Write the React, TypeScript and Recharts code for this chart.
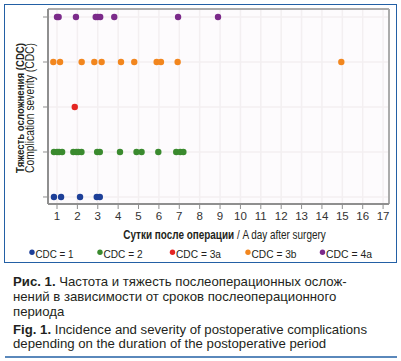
import React from 'react';
import { ScatterChart, Scatter, XAxis, YAxis, CartesianGrid, ReferenceLine } from 'recharts';

// Days after surgery for each complication grade (CDC)
const cdc1Days = [0.85, 1.2, 2.13, 2.95, 3.1];
const cdc2Days = [0.85, 1.0, 1.1, 1.25, 1.8, 1.95, 2.05, 2.2, 2.97, 3.1, 4.09, 4.9, 5.15, 5.97, 6.85, 7.05, 7.2];
const cdc3aDays = [1.87];
const cdc3bDays = [0.82, 1.15, 2.21, 2.83, 3.19, 4.14, 4.79, 5.89, 6.1, 6.92, 14.95];
const cdc4aDays = [1.0, 1.08, 1.93, 2.9, 3.0, 3.12, 3.81, 6.94, 8.9];

const seriesNames = ['CDC = 1', 'CDC = 2', 'CDC = 3a', 'CDC = 3b', 'CDC = 4a'];
const seriesLevels = [1, 2, 3, 4, 5];
const seriesColors = ['#1d3f98', '#3a8a2e', '#e42522', '#f2861e', '#7b2a8a'];
const seriesDays = [cdc1Days, cdc2Days, cdc3aDays, cdc3bDays, cdc4aDays];

const xTicks = [1, 2, 3, 4, 5, 6, 7, 8, 9, 10, 11, 12, 13, 14, 15, 16, 17];
const yTicks = [1, 2, 3, 4, 5];
const X_MIN = 0.558;
const X_MAX = 17.29;
const Y_MIN = 0.844;
const Y_MAX = 5.178;

const captionRu = [
  ['Рис. 1.', ' Частота и тяжесть послеоперационных ослож-'],
  ['', 'нений в зависимости от сроков послеоперационного'],
  ['', 'периода'],
];
const captionEn = [
  ['Fig. 1.', ' Incidence and severity of postoperative complications'],
  ['', 'depending on the duration of the postoperative period'],
];

const SANS = "'Liberation Sans', Arial, sans-serif";
const FRAME = '#2360a5';
const TEXT = '#231f20';

const legendX = [32, 100, 172.5, 248, 322.5];
const legendLen = [38, 39, 45, 45, 46];

const series = seriesNames.map((name, i) => ({
  name,
  color: seriesColors[i],
  data: seriesDays[i].map((d) => ({ day: d, level: seriesLevels[i] })),
}));

export default function App() {
  return (
    <div style={{ position: 'absolute', left: 0, top: 0, width: 401, height: 361, background: '#fff', overflow: 'hidden' }}>
      <div style={{ position: 'absolute', left: 4, top: 4, width: 391, height: 257, border: `1.7px solid ${FRAME}` }} />
      <div style={{ position: 'absolute', left: 0, top: 0 }}>
        <ScatterChart width={401} height={265} margin={{ top: 9, right: 12, bottom: 31, left: 38 }}>
          <CartesianGrid fill="#fdfbfd" stroke="#f3eff1" strokeWidth={1.5} />
          <XAxis
            type="number"
            dataKey="day"
            domain={[X_MIN, X_MAX]}
            ticks={xTicks}
            allowDataOverflow
            height={30}
            tickSize={5}
            tickMargin={3}
            interval={0}
            axisLine={{ stroke: '#8f8f8f', strokeWidth: 2 }}
            tickLine={{ stroke: '#8f8f8f' }}
            tick={{ fontSize: 11.5, fill: '#333', fontFamily: SANS }}
          />
          <YAxis
            type="number"
            dataKey="level"
            domain={[Y_MIN, Y_MAX]}
            ticks={yTicks}
            allowDataOverflow
            width={10}
            tickSize={5}
            interval={0}
            axisLine={{ stroke: '#8f8f8f', strokeWidth: 2 }}
            tickLine={{ stroke: '#8f8f8f' }}
            tickFormatter={() => ''}
          />
          <ReferenceLine y={Y_MAX} stroke="#ababab" strokeWidth={2} />
          <ReferenceLine x={X_MAX} stroke="#ababab" strokeWidth={2} />
          {series.map((s) => (
            <Scatter
              key={s.name}
              name={s.name}
              data={s.data}
              fill={s.color}
              isAnimationActive={false}
              shape={(p: any) => <circle cx={p.cx} cy={p.cy} r={3.2} fill={s.color} />}
            />
          ))}
        </ScatterChart>
      </div>
      <svg width={401} height={361} style={{ position: 'absolute', left: 0, top: 0, pointerEvents: 'none' }}>
        <text transform="translate(23.5,108) rotate(-90)" textAnchor="middle" fontFamily={SANS} fontWeight="bold" fontSize={11.5} fill={TEXT} textLength={130} lengthAdjust="spacingAndGlyphs">
          Тяжесть осложнения (CDC)
        </text>
        <text transform="translate(34,108) rotate(-90)" textAnchor="middle" fontFamily={SANS} fontSize={12} fill={TEXT} textLength={130} lengthAdjust="spacingAndGlyphs">
          Complication severity (CDC)
        </text>
        <g transform="translate(224.5,239.3) scale(0.828,1)">
          <text x={0} y={0} textAnchor="middle" fontFamily={SANS} fontSize={12} fill={TEXT}>
            <tspan fontWeight="bold">Сутки после операции</tspan>
            <tspan> / A day after surgery</tspan>
          </text>
        </g>
        {series.map((s, i) => (
          <g key={s.name}>
            <circle cx={legendX[i]} cy={252.3} r={2.7} fill={s.color} />
            <text x={legendX[i] + 3.5} y={258.3} fontFamily={SANS} fontSize={11.5} fill={TEXT} textLength={legendLen[i]} lengthAdjust="spacingAndGlyphs">
              {s.name}
            </text>
          </g>
        ))}
        {captionRu.map((l, i) => (
          <text key={'ru' + i} x={13} y={286 + i * 14.8} fontFamily={SANS} fontSize={13.2} fill={TEXT}>
            {l[0] && <tspan fontWeight="bold">{l[0]}</tspan>}
            <tspan>{l[1]}</tspan>
          </text>
        ))}
        {captionEn.map((l, i) => (
          <text key={'en' + i} x={13} y={334.3 + i * 13.6} fontFamily={SANS} fontSize={13.2} fill={TEXT}>
            {l[0] && <tspan fontWeight="bold">{l[0]}</tspan>}
            <tspan>{l[1]}</tspan>
          </text>
        ))}
        <line x1={5} x2={397} y1={357} y2={357} stroke={FRAME} strokeWidth={1.7} />
      </svg>
    </div>
  );
}
